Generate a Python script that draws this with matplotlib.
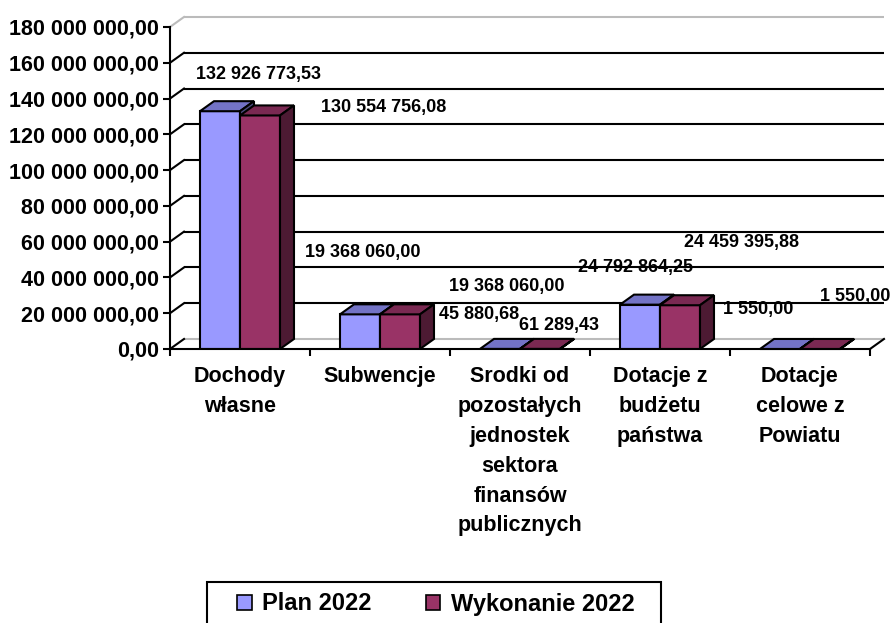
import numpy as np
import matplotlib
matplotlib.use("Agg")
import matplotlib.pyplot as plt
from matplotlib.patches import Polygon, Patch, Rectangle

plt.rcParams['font.family'] = ['Liberation Sans', 'DejaVu Sans']
plt.rcParams['font.weight'] = 'bold'

# ---------------- data ----------------
categories = ['Dochody\nwłasne', 'Subwencje',
              'Srodki od\npozostałych\njednostek\nsektora\nfinansów\npublicznych',
              'Dotacje z\nbudżetu\npaństwa', 'Dotacje\ncelowe z\nPowiatu']
plan_2022 = [132926773.53, 19368060.00, 45880.68, 24792864.25, 1550.00]
wykonanie_2022 = [130554756.08, 19368060.00, 61289.43, 24459395.88, 1550.00]
series_names = ['Plan 2022', 'Wykonanie 2022']
y_ticks = [0, 20e6, 40e6, 60e6, 80e6, 100e6, 120e6, 140e6, 160e6, 180e6]

# ---------------- style / layout ----------------
W, H = 893, 623
plan_front, plan_top, plan_side = '#9999FF', '#7373C6', '#4D4D80'
wyk_front, wyk_top, wyk_side = '#993366', '#7A2952', '#4D1A33'
# label offsets in pixels (dx, dy) relative to bar top centre
plan_label_off = [(38, 37), (3, 62), (-21, 34), (-5, 37), (-22, 39)]
wyk_label_off = [(124, 8), (107, 28), (19, 23), (62, 63), (35, 52)]

def fmt(v):
    s = f"{v:,.2f}"
    return s.replace(",", " ").replace(".", ",")

fig = plt.figure(figsize=(W / 100, H / 100), dpi=100)
ax = fig.add_axes([170 / W, (H - 349) / H, 700 / W, (349 - 27) / H])
n = len(categories)
ax.set_xlim(-0.5, n - 0.5)
ax.set_ylim(0, y_ticks[-1])

bw = 40 / 140          # bar width in category units
ddx = 14 / 140         # depth offset x
ddy = 10 / 35.7 * 20e6 # depth offset y

x0, x1 = -0.5, n - 0.5
lw = 1.5
# back wall gridlines
for t in y_ticks:
    col = '#BBBBBB' if t in (y_ticks[0], y_ticks[-1]) else 'black'
    ax.plot([x0 + ddx, x1 + ddx], [t + ddy, t + ddy], color=col, lw=lw,
            clip_on=False, zorder=1, solid_capstyle='butt')
    ax.plot([x0, x0 + ddx], [t, t + ddy], color=col if t == y_ticks[-1] else 'black',
            lw=lw, clip_on=False, zorder=1)
# floor right edge
ax.plot([x1, x1 + ddx], [0, ddy], color='black', lw=lw, clip_on=False, zorder=2)

xs = np.arange(n)
def draw_bar(xl, v, front, top, side):
    ax.bar(xl, v, width=bw, align='edge', color=front, edgecolor='black',
           linewidth=lw, zorder=3)
    xr = xl + bw
    ax.add_patch(Polygon([(xl, v), (xr, v), (xr + ddx, v + ddy), (xl + ddx, v + ddy)],
                         closed=True, facecolor=top, edgecolor='black', lw=lw,
                         zorder=3, clip_on=False))
    ax.add_patch(Polygon([(xr, 0), (xr, v), (xr + ddx, v + ddy), (xr + ddx, ddy)],
                         closed=True, facecolor=side, edgecolor='black', lw=lw,
                         zorder=3, clip_on=False))

for i in range(n):
    draw_bar(xs[i] - bw, plan_2022[i], plan_front, plan_top, plan_side)
    draw_bar(xs[i], wykonanie_2022[i], wyk_front, wyk_top, wyk_side)

# data labels
for i in range(n):
    ax.annotate(fmt(plan_2022[i]), (xs[i] - bw / 2, plan_2022[i]),
                xytext=(plan_label_off[i][0], plan_label_off[i][1]),
                textcoords='offset pixels', ha='center', va='center',
                fontsize=13, fontweight='bold', zorder=6, annotation_clip=False)
    ax.annotate(fmt(wykonanie_2022[i]), (xs[i] + bw / 2, wykonanie_2022[i]),
                xytext=(wyk_label_off[i][0], wyk_label_off[i][1]),
                textcoords='offset pixels', ha='center', va='center',
                fontsize=13, fontweight='bold', zorder=6, annotation_clip=False)

# axes styling
for s in ['top', 'right']:
    ax.spines[s].set_visible(False)
ax.spines['left'].set_linewidth(lw)
ax.spines['bottom'].set_linewidth(lw)
ax.spines['left'].set_zorder(5)
ax.spines['bottom'].set_zorder(5)
ax.set_yticks(y_ticks)
ax.set_yticklabels([fmt(t) for t in y_ticks], fontsize=15.5, fontweight='bold')
ax.tick_params(axis='y', length=5, width=lw, pad=3)
ax.set_xticks(xs)
ax.set_xticklabels(categories, fontsize=15.5, fontweight='bold', linespacing=1.56,
                   va='top')
ax.set_xticks(np.arange(n + 1) - 0.5, minor=True)
ax.tick_params(axis='x', which='major', length=0, pad=12)
ax.tick_params(axis='x', which='minor', length=5, width=lw, direction='out')
ax.set_facecolor('none')

# legend
handles = [Patch(facecolor=plan_front, edgecolor='black', lw=1.2),
           Patch(facecolor=wyk_front, edgecolor='black', lw=1.2)]
leg = fig.legend(handles, series_names, ncol=2, loc='center',
                 bbox_to_anchor=(436 / W, 1 - 604 / H), frameon=False,
                 handlelength=0.6, handleheight=0.6, handletextpad=0.45,
                 columnspacing=2.3, borderpad=0.0, borderaxespad=0.0,
                 prop={'size': 17, 'weight': 'bold'})
fig.add_artist(Rectangle((207 / W, -0.05), (661 - 207) / W, 0.05 + (H - 582) / H,
                         transform=fig.transFigure, facecolor='none',
                         edgecolor='black', lw=1.5, clip_on=False))

fig.savefig('out.png', dpi=100)
